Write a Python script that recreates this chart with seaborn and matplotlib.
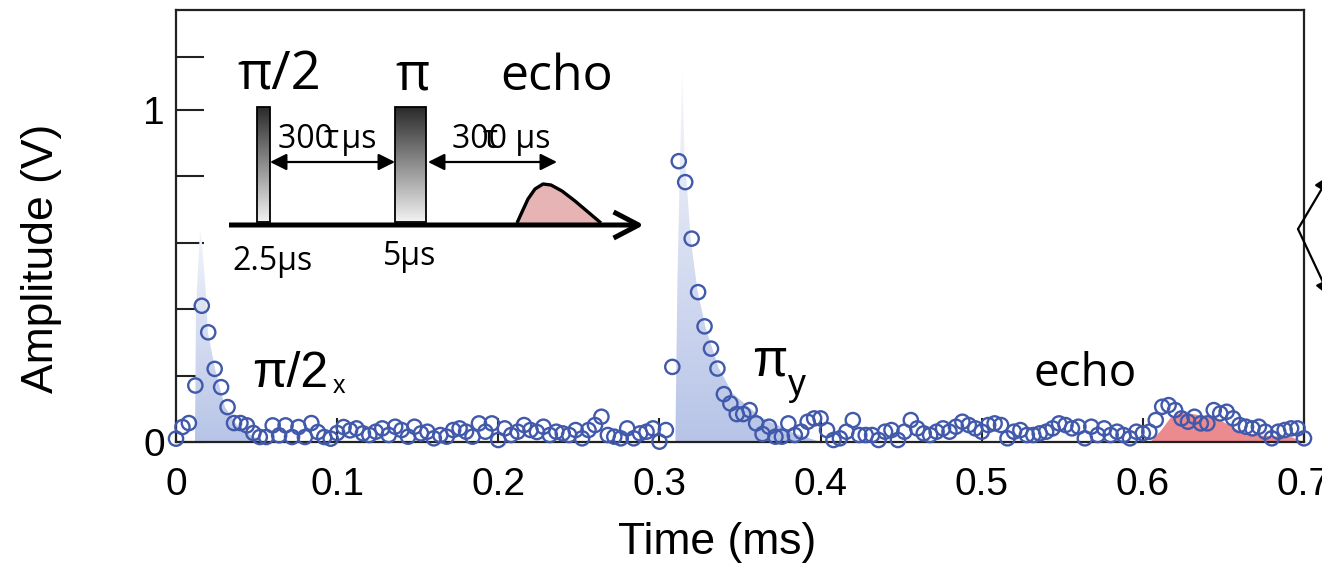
import numpy as np
import pandas as pd
import matplotlib
matplotlib.use("Agg")
import matplotlib.pyplot as plt
import seaborn as sns
from matplotlib.patches import Polygon, Rectangle, FancyArrowPatch
from matplotlib.colors import LinearSegmentedColormap

sns.set_theme(style="ticks")
plt.rcParams['font.family'] = ['Liberation Sans', 'DejaVu Sans']
plt.rcParams['text.color'] = 'black'
plt.rcParams['axes.labelcolor'] = 'black'
plt.rcParams['xtick.color'] = 'black'
plt.rcParams['ytick.color'] = 'black'

# ---------------- data ----------------
dt_ms = 0.004  # sampling interval of the recorded trace
amplitude_v = [
    0.010, 0.045, 0.057, 0.170, 0.410, 0.330, 0.220, 0.165, 0.105, 0.057,
    0.057, 0.050, 0.027, 0.015, 0.015, 0.050, 0.020, 0.050, 0.015, 0.045,
    0.015, 0.057, 0.030, 0.015, 0.010, 0.027, 0.045, 0.035,
    0.041, 0.026, 0.021, 0.031, 0.041, 0.021, 0.046, 0.036, 0.016, 0.046,
    0.026, 0.031, 0.011, 0.021, 0.016, 0.036, 0.041, 0.031, 0.016, 0.056,
    0.031, 0.056, 0.006, 0.041, 0.021, 0.031, 0.051, 0.036, 0.030,
    0.046, 0.021, 0.031, 0.026, 0.021, 0.036, 0.011, 0.036, 0.051, 0.076,
    0.021, 0.016, 0.011, 0.041, 0.011, 0.026, 0.031, 0.041, 0.001, 0.036,
    0.226, 0.845, 0.782, 0.612, 0.451, 0.348, 0.281, 0.221, 0.144,
    0.116, 0.084, 0.084, 0.096, 0.056, 0.024, 0.046, 0.016, 0.016, 0.056,
    0.021, 0.031, 0.061, 0.071, 0.071, 0.036, 0.006, 0.011, 0.031, 0.066,
    0.021, 0.021, 0.021, 0.006, 0.031, 0.036, 0.006, 0.031,
    0.066, 0.041, 0.026, 0.021, 0.031, 0.041, 0.031, 0.046, 0.061, 0.051,
    0.041, 0.031, 0.051, 0.056, 0.051, 0.011, 0.031, 0.036, 0.021, 0.021,
    0.026, 0.031, 0.041, 0.056, 0.051, 0.041, 0.046, 0.011, 0.046,
    0.021, 0.041, 0.021, 0.031, 0.021, 0.011, 0.031, 0.026, 0.031, 0.066,
    0.106, 0.111, 0.096, 0.071, 0.061, 0.076, 0.056, 0.056, 0.096, 0.086,
    0.091, 0.071, 0.051, 0.046, 0.041, 0.046, 0.031, 0.011, 0.031, 0.036,
    0.041, 0.041, 0.011,
]
time_ms = np.arange(len(amplitude_v)) * dt_ms

# envelopes of the shaded pulses / echo
pulse1_env_t = [0.0118, 0.0124, 0.0149, 0.0161, 0.0184, 0.0198, 0.0242, 0.0304, 0.0379, 0.047, 0.055]
pulse1_env_v = [0.0, 0.40, 0.64, 0.60, 0.456, 0.33, 0.22, 0.105, 0.05, 0.018, 0.0]
pulse2_env_t = [0.3099, 0.3112, 0.3141, 0.3155, 0.3193, 0.3236, 0.3286, 0.3366, 0.3453, 0.3627, 0.3832, 0.400]
pulse2_env_v = [0.0, 0.50, 1.12, 0.877, 0.616, 0.456, 0.345, 0.225, 0.147, 0.075, 0.027, 0.0]
echo_env_t = [0.604, 0.611, 0.617, 0.624, 0.636, 0.648, 0.661, 0.673, 0.692, 0.700]
echo_env_v = [0.0, 0.036, 0.075, 0.091, 0.081, 0.066, 0.031, 0.021, 0.016, 0.0]

x_ticks = [0, 0.1, 0.2, 0.3, 0.4, 0.5, 0.6, 0.7]
x_tick_labels = ['0', '0.1', '0.2', '0.3', '0.4', '0.5', '0.6', '0.7']
y_ticks = [0, 0.2, 0.4, 0.6, 0.8, 1.0, 1.16]
y_tick_labels = ['0', '', '', '', '', '1', '']

df = pd.DataFrame({'Time (ms)': time_ms, 'Amplitude (V)': amplitude_v})

# ---------------- figure ----------------
W, H = 1322, 577
fig = plt.figure(figsize=(W / 100, H / 100), dpi=100)
fig.patch.set_facecolor('white')
ax = fig.add_axes([176 / W, 1 - 442 / H, 1128 / W, 432 / H])
ax.set_facecolor('white')


def gradient_fill(ax, t, v, c_bottom, c_top, vmax, z=1):
    verts = np.column_stack([t, v])
    poly = Polygon(verts, closed=True, facecolor='none', edgecolor='none',
                   transform=ax.transData)
    ax.add_patch(poly)
    cmap = LinearSegmentedColormap.from_list('g', [c_bottom, c_top])
    grad = np.linspace(0, 1, 256).reshape(-1, 1)
    im = ax.imshow(grad, cmap=cmap, aspect='auto', origin='lower',
                   extent=[min(t), max(t), 0, vmax], zorder=z, interpolation='bilinear')
    im.set_clip_path(poly)


gradient_fill(ax, pulse1_env_t, pulse1_env_v, '#b7c4e7', '#f3f5fb', max(pulse1_env_v))
gradient_fill(ax, pulse2_env_t, pulse2_env_v, '#b7c4e7', '#f7f8fc', max(pulse2_env_v))
ax.fill_between(echo_env_t, 0, echo_env_v, color='#eb8a8f', lw=0, zorder=1)

sns.scatterplot(data=df, x='Time (ms)', y='Amplitude (V)', ax=ax, marker='o',
                s=105, facecolors='none', edgecolor='#4159ab', linewidth=1.7,
                zorder=4, clip_on=False, legend=False)

ax.set_xlim(0, 0.7)
ax.set_ylim(0, 1.3)
ax.set_xticks(x_ticks)
ax.set_xticklabels(x_tick_labels)
ax.set_yticks(y_ticks)
ax.set_yticklabels(y_tick_labels)
ax.tick_params(axis='x', direction='in', length=17, width=1.5, labelsize=28, pad=18, color='#222222')
ax.tick_params(axis='y', direction='in', length=20, width=1.5, labelsize=28, pad=8, color='#222222')
for sp in ax.spines.values():
    sp.set_visible(True)
    sp.set_linewidth(1.6)
    sp.set_color('#222222')

ax.set_xlabel('Time (ms)', fontsize=32)
ax.set_ylabel('Amplitude (V)', fontsize=32)
ax.xaxis.set_label_coords(0.48, -0.185)
ax.yaxis.set_label_coords(-0.101, 0.426)

# ---------------- overlay in pixel coordinates ----------------
ov = fig.add_axes([0, 0, 1, 1], zorder=5)
ov.set_xlim(0, W)
ov.set_ylim(H, 0)
ov.axis('off')
ov.patch.set_alpha(0)

inset_font = ['Open Sans', 'DejaVu Sans']

# data labels
ov.text(290, 387, 'π/2', fontsize=36, ha='center', va='baseline')
ov.text(333, 393, 'x', fontsize=18, ha='left', va='baseline')
ov.text(770, 375, 'π', fontsize=37, ha='center', va='baseline')
ov.text(788, 395, 'y', fontsize=26, ha='left', va='baseline')
ov.text(1085, 386, 'echo', fontsize=33, ha='center', va='baseline', family=inset_font)

# pulse-sequence schematic
ov.text(279, 90, 'π/2', fontsize=38, ha='center', va='baseline', family=inset_font)
ov.text(413, 90, 'π', fontsize=38, ha='center', va='baseline', family=inset_font)
ov.text(557, 90, 'echo', fontsize=36, ha='center', va='baseline', family=inset_font)

bar_cmap = LinearSegmentedColormap.from_list('bar', ['#2a2a2a', '#f2f2f2'])
bar_grad = np.linspace(0, 1, 256).reshape(-1, 1)
for (x0, x1) in [(257, 270), (395, 426)]:
    ov.imshow(bar_grad, cmap=bar_cmap, aspect='auto', origin='upper',
              extent=(x0, x1, 222, 107), zorder=2, interpolation='bilinear')
    ov.add_patch(Rectangle((x0, 107), x1 - x0, 115, facecolor='none',
                           edgecolor='black', lw=1.3, zorder=3))
ov.set_xlim(0, W)
ov.set_ylim(H, 0)

echo_shape = np.array([(517, 223), (522, 212), (528, 199), (535, 189), (543, 184),
                       (551, 185), (562, 191), (575, 201), (588, 212), (601, 223)])
ov.add_patch(Polygon(echo_shape, closed=False, facecolor='#e6b4b4',
                     edgecolor='black', lw=2.4, zorder=3, joinstyle='round'))

ov.add_patch(FancyArrowPatch((229, 225), (644, 225),
                             arrowstyle='->,head_length=0.9,head_width=0.47',
                             mutation_scale=20, lw=3.6, color='black', zorder=4,
                             shrinkA=0, shrinkB=0, capstyle='butt'))
for (xa, xb) in [(270, 395), (428, 557)]:
    ov.add_patch(FancyArrowPatch((xa, 162), (xb, 162),
                                 arrowstyle='<|-|>,head_length=1.0,head_width=0.5',
                                 mutation_scale=10, lw=1.6, color='black', zorder=4,
                                 shrinkA=0, shrinkB=0))

ov.text(327, 148, '300 μs', fontsize=23, ha='center', va='baseline', family=inset_font)
ov.text(331, 148, 'τ', fontsize=23, ha='center', va='baseline', family=inset_font)
ov.text(501, 148, '300 μs', fontsize=23, ha='center', va='baseline', family=inset_font)
ov.text(490, 148, 'τ', fontsize=23, ha='center', va='baseline', family=inset_font)
ov.text(273, 270, '2.5μs', fontsize=23, ha='center', va='baseline', family=inset_font)
ov.text(410, 265, '5μs', fontsize=23, ha='center', va='baseline', family=inset_font)

# bracket fragment at the right edge
for end in [(1330, 175), (1330, 297)]:
    ov.add_patch(FancyArrowPatch((1298, 229), end, arrowstyle='-|>,head_length=0.8,head_width=0.4',
                                 mutation_scale=12, lw=1.6, color='black', shrinkA=0, shrinkB=0,
                                 clip_on=False))

fig.savefig('out.png', dpi=100)
